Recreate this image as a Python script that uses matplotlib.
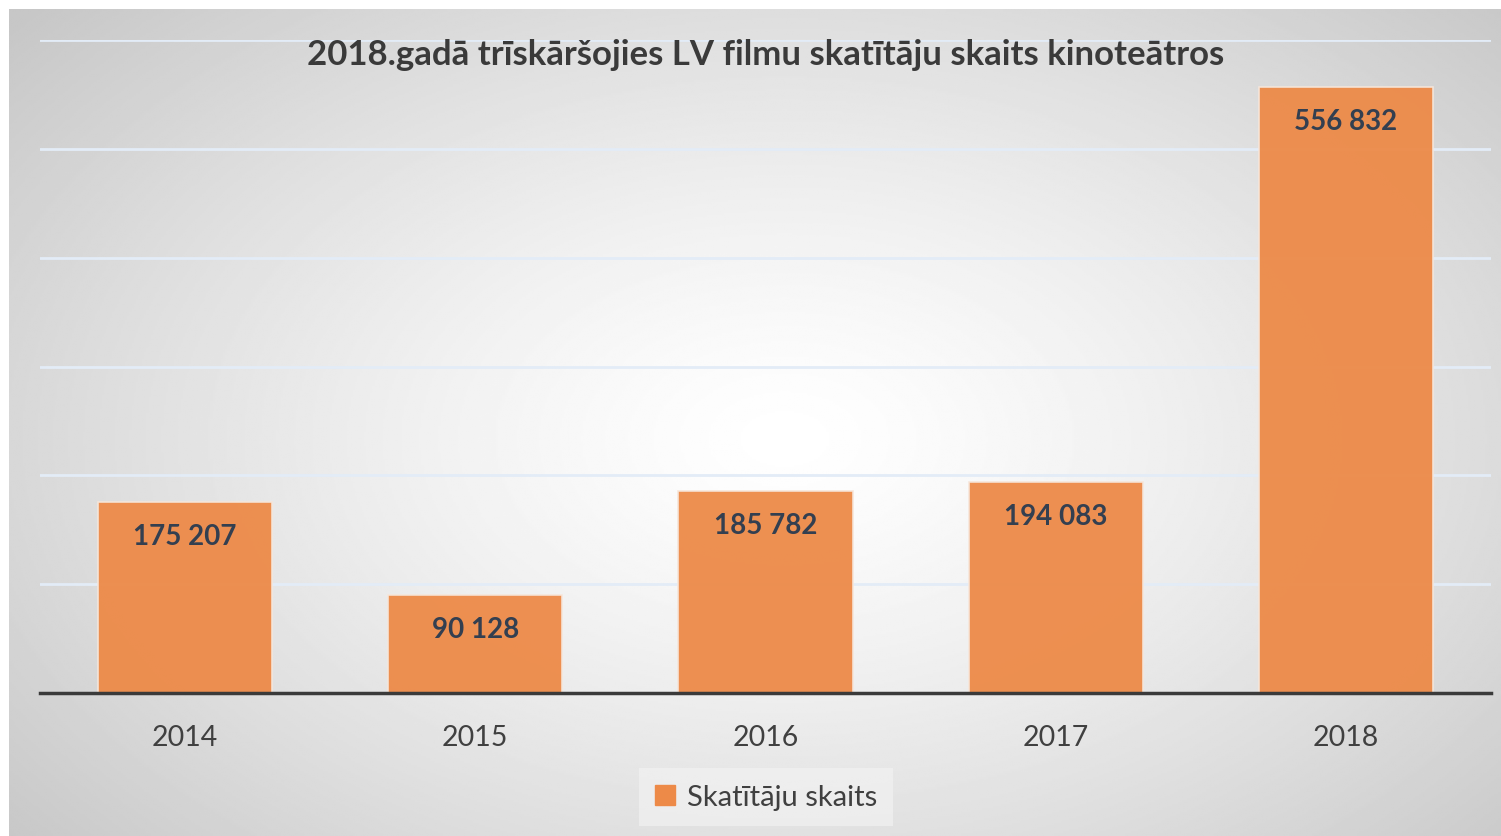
import numpy as np
import matplotlib.pyplot as plt
from matplotlib.patches import Patch

gadi = ["2014", "2015", "2016", "2017", "2018"]
skatitaji = [175207, 90128, 185782, 194083, 556832]

plt.rcParams['font.family'] = ['Lato', 'DejaVu Sans']

fig = plt.figure(figsize=(15.01, 8.37), dpi=100)
fig.patch.set_facecolor("white")

# radial gradient background
bg = fig.add_axes([9 / 1501, 0, 1 - 9 / 1501, 1 - 10 / 837])
yy, xx = np.mgrid[0:1:400j, 0:1:700j]
r = np.sqrt(((xx - 0.52) / 0.75) ** 2 + ((yy - 0.52) / 0.85) ** 2)
shade = np.clip(1.0 - 0.25 * r ** 1.3, 0.78, 1.0)
bg.imshow(shade, cmap="gray", vmin=0, vmax=1, aspect="auto", extent=[0, 1, 0, 1])
bg.axis("off")

ax = fig.add_axes([40 / 1501, 1 - 694 / 837, 1451 / 1501, 653 / 837])
ax.set_facecolor("none")
x = np.arange(len(gadi))
bars = ax.bar(x, skatitaji, width=0.6, color="#ed8a48", alpha=0.95,
              edgecolor="#f6e6da", linewidth=1.2, zorder=3)
ax.set_xlim(-0.5, len(gadi) - 0.5)
ax.set_ylim(0, 600000)
ax.set_yticks(range(0, 600001, 100000))
ax.grid(axis="y", color="#e3ecf7", linewidth=2, zorder=0)
ax.tick_params(axis="y", left=False, labelleft=False)
ax.tick_params(axis="x", bottom=False, labelsize=20.5, labelcolor="#404040", pad=19)
ax.set_xticks(x)
ax.set_xticklabels(gadi)
for s in ["top", "right", "left"]:
    ax.spines[s].set_visible(False)
ax.spines["bottom"].set_color("#3a3a3a")
ax.spines["bottom"].set_linewidth(2.5)
ax.spines["bottom"].set_zorder(4)

for b, v in zip(bars, skatitaji):
    ax.annotate(f"{v:,}".replace(",", " "), (b.get_x() + b.get_width() / 2, v),
                xytext=(0, -34), textcoords="offset pixels", ha="center", va="center",
                fontsize=20, fontweight="bold", color="#333f50", zorder=5)

fig.text(766 / 1501, 1 - 55 / 837, "2018.gadā trīskāršojies LV filmu skatītāju skaits kinoteātros",
         ha="center", va="center", fontsize=25, fontweight="bold", color="#3a3a3a")

leg = fig.legend(handles=[Patch(facecolor="#ed8a48", edgecolor="#ed8a48", label="Skatītāju skaits")],
                 loc="center", bbox_to_anchor=(766 / 1501, 1 - 798 / 837), fontsize=21,
                 frameon=True, handlelength=0.7, handleheight=0.7, handletextpad=0.4,
                 borderpad=0.55, fancybox=False)
leg.get_frame().set_facecolor("#f4f4f4")
leg.get_frame().set_alpha(0.6)
leg.get_frame().set_edgecolor("none")
for t in leg.get_texts():
    t.set_color("#404040")

fig.savefig("out.png", dpi=100)
